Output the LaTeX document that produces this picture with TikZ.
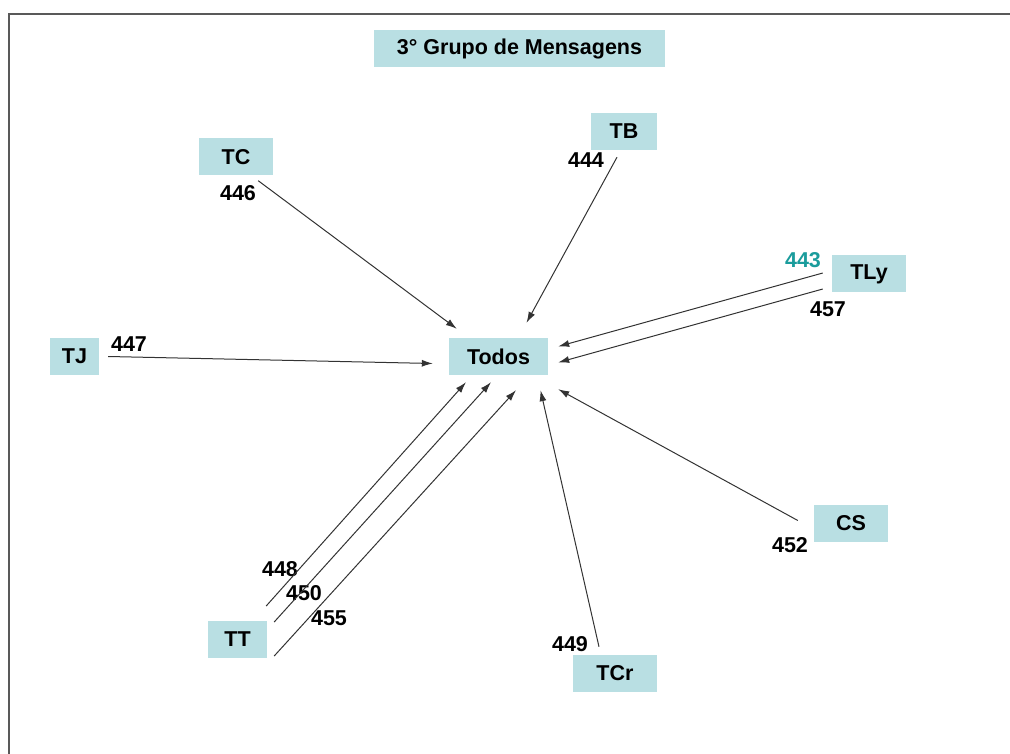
\documentclass[tikz,border=0pt]{standalone}
\usepackage{fontspec}
\setmainfont{Liberation Sans}
\usetikzlibrary{arrows.meta,calc}
\definecolor{boxfill}{HTML}{B9DFE3}
\definecolor{tealnum}{HTML}{1A9C9C}

\begin{document}
\begin{tikzpicture}[x=1pt, y=-1pt, font=\fontsize{21.5}{25}\selectfont\bfseries]
        \tikzstyle{box}=[rectangle,fill=boxfill,inner sep=0pt,minimum height=37pt]
        \tikzstyle{num}=[inner sep=0pt]
        \tikzstyle{msg}=[-{Latex[length=11pt,width=7pt]}, line width=1pt, draw=black!80]

        \useasboundingbox (0,0) rectangle (1010,754);
        \draw[line width=1.5pt, black!65] (9,754) -- (9,14) -- (1010,14);

        \node[box, minimum width=291pt] (title) at (519.5,48.5) {3° Grupo de Mensagens};
        \node[box, minimum width=99pt] (Todos) at (498.5,356.5) {Todos};
        \node[box, minimum width=74pt] (TC) at (236,157) {TC};
        \node[box, minimum width=66pt] (TB) at (624,131.5) {TB};
        \node[box, minimum width=74pt] (TLy) at (869,274) {TLy};
        \node[box, minimum width=49pt] (TJ) at (74.5,356.5) {TJ};
        \node[box, minimum width=74pt] (CS) at (851,523.5) {CS};
        \node[box, minimum width=59pt] (TT) at (237.5,639.5) {TT};
        \node[box, minimum width=84pt] (TCr) at (615,673.5) {TCr};

        \node[num] (n446) at (238,193) {446};
        \node[num] (n444) at (586,160) {444};
        \node[num, text=tealnum] (n443) at (803,260) {443};
        \node[num] (n457) at (828,309) {457};
        \node[num] (n447) at (129,344) {447};
        \node[num] (n452) at (790,545) {452};
        \node[num] (n448) at (280,569) {448};
        \node[num] (n450) at (304,593) {450};
        \node[num] (n455) at (329,618) {455};
        \node[num] (n449) at (570,644) {449};

        \draw[msg] ($(TC.south east)+(-15,5)$) -- ($(Todos.north west)+(8,-9)$);
        \draw[msg] ($(TB.south)+(-7,7)$) -- ($(Todos.north)+(28,-15)$);
        \draw[msg] ($(TLy.west)+(-9,-1)$) -- ($(Todos.east)+(10,-10)$);
        \draw[msg] ($(TLy.west)+(-9,15)$) -- ($(Todos.east)+(10,6)$);
        \draw[msg] ($(TJ.east)+(9,0)$) -- ($(Todos.west)+(-16,7)$);
        \draw[msg] ($(CS.west)+(-16,-3)$) -- ($(Todos.south east)+(10,14)$);
        \draw[msg] ($(TCr.north)+(-16,-8)$) -- ($(Todos.south)+(42,15)$);
        \draw[msg] ($(TT.east)+(-1,-33.5)$) -- ($(Todos.south)+(-32.5,7)$);
        \draw[msg] ($(TT.east)+(7,-17.5)$) -- ($(Todos.south)+(-7.5,7)$);
        \draw[msg] ($(TT.east)+(7,16.5)$) -- ($(Todos.south)+(17.5,15)$);
    \end{tikzpicture}
\end{document}
